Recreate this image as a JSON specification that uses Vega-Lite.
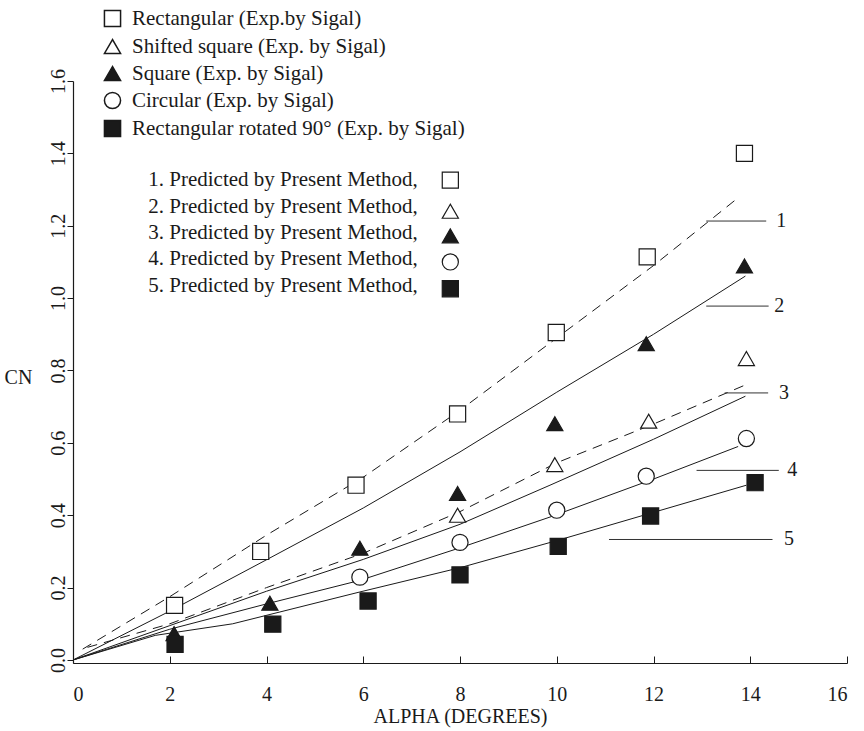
{
  "$schema": "https://vega.github.io/schema/vega-lite/v6.json",
  "width": 774,
  "height": 582,
  "autosize": {"type": "none"},
  "padding": {"left": 73, "top": 81, "right": 17, "bottom": 68},
  "background": "white",
  "config": {
    "font": "Liberation Serif",
    "view": {"stroke": null},
    "axis": {
      "grid": false,
      "domainColor": "#1a1a1a",
      "domainWidth": 1.2,
      "tickColor": "#1a1a1a",
      "tickWidth": 1,
      "labelColor": "#1a1a1a",
      "titleColor": "#1a1a1a",
      "labelFont": "Liberation Serif",
      "titleFont": "Liberation Serif",
      "labelFontSize": 20,
      "titleFontSize": 20,
      "titleFontWeight": "normal"
    },
    "legend": {
      "labelFont": "Liberation Serif",
      "labelFontSize": 21,
      "labelColor": "#1a1a1a",
      "labelLimit": 0
    }
  },
  "datasets": {
    "experimental": [
      {"series": "Rectangular (Exp.by Sigal)", "alpha": 2.1, "cn": 0.151},
      {"series": "Rectangular (Exp.by Sigal)", "alpha": 3.88, "cn": 0.30},
      {"series": "Rectangular (Exp.by Sigal)", "alpha": 5.85, "cn": 0.483},
      {"series": "Rectangular (Exp.by Sigal)", "alpha": 7.95, "cn": 0.68},
      {"series": "Rectangular (Exp.by Sigal)", "alpha": 9.99, "cn": 0.905},
      {"series": "Rectangular (Exp.by Sigal)", "alpha": 11.87, "cn": 1.114},
      {"series": "Rectangular (Exp.by Sigal)", "alpha": 13.88, "cn": 1.40},
      {"series": "Shifted square (Exp. by Sigal)", "alpha": 7.95, "cn": 0.40},
      {"series": "Shifted square (Exp. by Sigal)", "alpha": 9.96, "cn": 0.54},
      {"series": "Shifted square (Exp. by Sigal)", "alpha": 11.9, "cn": 0.66},
      {"series": "Shifted square (Exp. by Sigal)", "alpha": 13.92, "cn": 0.833},
      {"series": "Square (Exp. by Sigal)", "alpha": 2.09, "cn": 0.073},
      {"series": "Square (Exp. by Sigal)", "alpha": 4.07, "cn": 0.157},
      {"series": "Square (Exp. by Sigal)", "alpha": 5.93, "cn": 0.309},
      {"series": "Square (Exp. by Sigal)", "alpha": 7.95, "cn": 0.46},
      {"series": "Square (Exp. by Sigal)", "alpha": 9.96, "cn": 0.653},
      {"series": "Square (Exp. by Sigal)", "alpha": 11.85, "cn": 0.874},
      {"series": "Square (Exp. by Sigal)", "alpha": 13.88, "cn": 1.089},
      {"series": "Circular (Exp. by Sigal)", "alpha": 5.93, "cn": 0.229},
      {"series": "Circular (Exp. by Sigal)", "alpha": 8.0, "cn": 0.325},
      {"series": "Circular (Exp. by Sigal)", "alpha": 10.0, "cn": 0.414},
      {"series": "Circular (Exp. by Sigal)", "alpha": 11.85, "cn": 0.508},
      {"series": "Circular (Exp. by Sigal)", "alpha": 13.92, "cn": 0.612},
      {"series": "Rectangular rotated 90° (Exp. by Sigal)", "alpha": 2.11, "cn": 0.043},
      {"series": "Rectangular rotated 90° (Exp. by Sigal)", "alpha": 4.13, "cn": 0.099},
      {"series": "Rectangular rotated 90° (Exp. by Sigal)", "alpha": 6.1, "cn": 0.163},
      {"series": "Rectangular rotated 90° (Exp. by Sigal)", "alpha": 8.0, "cn": 0.235},
      {"series": "Rectangular rotated 90° (Exp. by Sigal)", "alpha": 10.03, "cn": 0.314},
      {"series": "Rectangular rotated 90° (Exp. by Sigal)", "alpha": 11.94, "cn": 0.398},
      {"series": "Rectangular rotated 90° (Exp. by Sigal)", "alpha": 14.1, "cn": 0.49}
    ],
    "predicted": [
      {"curve": "1", "alpha": 0.2, "cn": 0.03},
      {"curve": "1", "alpha": 2, "cn": 0.175},
      {"curve": "1", "alpha": 4, "cn": 0.345},
      {"curve": "1", "alpha": 6, "cn": 0.505},
      {"curve": "1", "alpha": 8, "cn": 0.69},
      {"curve": "1", "alpha": 10, "cn": 0.89},
      {"curve": "1", "alpha": 12, "cn": 1.09},
      {"curve": "1", "alpha": 13.7, "cn": 1.272},
      {"curve": "2", "alpha": 0, "cn": 0},
      {"curve": "2", "alpha": 2, "cn": 0.135},
      {"curve": "2", "alpha": 4, "cn": 0.277},
      {"curve": "2", "alpha": 6, "cn": 0.42},
      {"curve": "2", "alpha": 8, "cn": 0.575},
      {"curve": "2", "alpha": 10, "cn": 0.74},
      {"curve": "2", "alpha": 12, "cn": 0.9},
      {"curve": "2", "alpha": 13.9, "cn": 1.061},
      {"curve": "3", "alpha": 0.3, "cn": 0.035},
      {"curve": "3", "alpha": 2, "cn": 0.1},
      {"curve": "3", "alpha": 4, "cn": 0.2},
      {"curve": "3", "alpha": 6, "cn": 0.295},
      {"curve": "3", "alpha": 8, "cn": 0.41},
      {"curve": "3", "alpha": 10, "cn": 0.545},
      {"curve": "3", "alpha": 12, "cn": 0.652},
      {"curve": "3", "alpha": 13.88, "cn": 0.759},
      {"curve": "4", "alpha": 0, "cn": 0},
      {"curve": "4", "alpha": 2, "cn": 0.095},
      {"curve": "4", "alpha": 4, "cn": 0.19},
      {"curve": "4", "alpha": 6, "cn": 0.278},
      {"curve": "4", "alpha": 8, "cn": 0.375},
      {"curve": "4", "alpha": 9.86, "cn": 0.483},
      {"curve": "4", "alpha": 12, "cn": 0.61},
      {"curve": "4", "alpha": 13.9, "cn": 0.729},
      {"curve": "5", "alpha": 0, "cn": 0},
      {"curve": "5", "alpha": 2, "cn": 0.085},
      {"curve": "5", "alpha": 4, "cn": 0.155},
      {"curve": "5", "alpha": 5.93, "cn": 0.22},
      {"curve": "5", "alpha": 8, "cn": 0.31},
      {"curve": "5", "alpha": 9.86, "cn": 0.395},
      {"curve": "5", "alpha": 12, "cn": 0.5},
      {"curve": "5", "alpha": 13.75, "cn": 0.59},
      {"curve": "6", "alpha": 0, "cn": 0},
      {"curve": "6", "alpha": 1.7, "cn": 0.068},
      {"curve": "6", "alpha": 3.3, "cn": 0.1},
      {"curve": "6", "alpha": 5.93, "cn": 0.188},
      {"curve": "6", "alpha": 8, "cn": 0.255},
      {"curve": "6", "alpha": 10.03, "cn": 0.331},
      {"curve": "6", "alpha": 12, "cn": 0.408},
      {"curve": "6", "alpha": 13.92, "cn": 0.483}
    ],
    "leaders": [
      {"label": "1", "from": 13.09, "to": 14.33, "cn": 1.213, "at": 14.64},
      {"label": "2", "from": 13.09, "to": 14.38, "cn": 0.978, "at": 14.6},
      {"label": "3", "from": 13.47, "to": 14.37, "cn": 0.738, "at": 14.7},
      {"label": "4", "from": 12.89, "to": 14.59, "cn": 0.524, "at": 14.87},
      {"label": "5", "from": 11.08, "to": 14.46, "cn": 0.333, "at": 14.8}
    ],
    "key": [
      {"label": "1. Predicted by Present Method,", "series": "Rectangular (Exp.by Sigal)", "tx": 1.556, "ty": 1.326, "sx": 7.8, "sy": 1.326},
      {"label": "2. Predicted by Present Method,", "series": "Shifted square (Exp. by Sigal)", "tx": 1.556, "ty": 1.253, "sx": 7.8, "sy": 1.24},
      {"label": "3. Predicted by Present Method,", "series": "Square (Exp. by Sigal)", "tx": 1.556, "ty": 1.18, "sx": 7.8, "sy": 1.172},
      {"label": "4. Predicted by Present Method,", "series": "Circular (Exp. by Sigal)", "tx": 1.556, "ty": 1.107, "sx": 7.8, "sy": 1.1},
      {"label": "5. Predicted by Present Method,", "series": "Rectangular rotated 90° (Exp. by Sigal)", "tx": 1.556, "ty": 1.034, "sx": 7.8, "sy": 1.026}
    ]
  },
  "layer": [
    {
      "data": {"name": "predicted"},
      "transform": [{"filter": "datum.curve === '1' || datum.curve === '3'"}],
      "mark": {"type": "line", "color": "#1a1a1a", "strokeWidth": 1, "strokeDash": [10, 7]},
      "encoding": {
        "x": {
          "field": "alpha", "type": "quantitative", "title": "ALPHA (DEGREES)",
          "scale": {"domain": [0, 16], "nice": false, "zero": false},
          "axis": {
            "values": [0, 2, 4, 6, 8, 10, 12, 14, 16],
            "tickSize": -7,
            "labelPadding": 28,
            "titleY": 53,
            "titleBaseline": "middle"
          }
        },
        "y": {
          "field": "cn", "type": "quantitative", "title": "CN",
          "scale": {"domain": [-0.0083, 1.6], "nice": false, "zero": false},
          "axis": {
            "values": [0, 0.2, 0.4, 0.6, 0.8, 1.0, 1.2, 1.4, 1.6],
            "format": ".1f",
            "tickSize": 6,
            "labelAngle": 270,
            "labelAlign": "center",
            "labelBaseline": "alphabetic",
            "labelPadding": 3,
            "titleAngle": 0,
            "titleX": -55,
            "titleY": 296,
            "titleAlign": "center",
            "titleBaseline": "middle"
          }
        },
        "detail": {"field": "curve"}
      }
    },
    {
      "data": {"name": "predicted"},
      "transform": [{"filter": "datum.curve !== '1' && datum.curve !== '3'"}],
      "mark": {"type": "line", "color": "#1a1a1a", "strokeWidth": 1},
      "encoding": {
        "x": {"field": "alpha", "type": "quantitative", "title": "ALPHA (DEGREES)"},
        "y": {"field": "cn", "type": "quantitative", "title": "CN"},
        "detail": {"field": "curve"}
      }
    },
    {
      "data": {"name": "leaders"},
      "mark": {"type": "rule", "color": "#333333", "strokeWidth": 1},
      "encoding": {
        "x": {"field": "from", "type": "quantitative", "title": "ALPHA (DEGREES)"},
        "x2": {"field": "to"},
        "y": {"field": "cn", "type": "quantitative", "title": "CN"}
      }
    },
    {
      "data": {"name": "leaders"},
      "mark": {"type": "text", "font": "Liberation Serif", "fontSize": 20, "color": "#1a1a1a", "align": "center", "baseline": "middle"},
      "encoding": {
        "x": {"field": "at", "type": "quantitative", "title": "ALPHA (DEGREES)"},
        "y": {"field": "cn", "type": "quantitative", "title": "CN"},
        "text": {"field": "label"}
      }
    },
    {
      "data": {"name": "experimental"},
      "mark": {"type": "point", "filled": true, "opacity": 1, "stroke": "#1a1a1a", "strokeWidth": 1.2},
      "encoding": {
        "x": {"field": "alpha", "type": "quantitative", "title": "ALPHA (DEGREES)"},
        "y": {"field": "cn", "type": "quantitative", "title": "CN"},
        "shape": {
          "field": "series", "type": "nominal",
          "scale": {
            "domain": ["Rectangular (Exp.by Sigal)", "Shifted square (Exp. by Sigal)", "Square (Exp. by Sigal)", "Circular (Exp. by Sigal)", "Rectangular rotated 90° (Exp. by Sigal)"],
            "range": ["square", "triangle-up", "triangle-up", "circle", "square"]
          },
          "legend": {
            "title": null,
            "orient": "none",
            "legendX": 29,
            "legendY": -73,
            "rowPadding": 5,
            "labelOffset": 9,
            "padding": 0,
            "labelLimit": 0,
            "encode": {"symbols": {"update": {"stroke": {"value": "#1a1a1a"}, "strokeWidth": {"value": 1.2}}}}
          }
        },
        "fill": {
          "field": "series", "type": "nominal",
          "scale": {
            "domain": ["Rectangular (Exp.by Sigal)", "Shifted square (Exp. by Sigal)", "Square (Exp. by Sigal)", "Circular (Exp. by Sigal)", "Rectangular rotated 90° (Exp. by Sigal)"],
            "range": ["white", "white", "#1a1a1a", "white", "#1a1a1a"]
          },
          "legend": {
            "title": null,
            "orient": "none",
            "legendX": 29,
            "legendY": -73,
            "rowPadding": 5,
            "labelOffset": 9,
            "padding": 0,
            "labelLimit": 0,
            "encode": {"symbols": {"update": {"stroke": {"value": "#1a1a1a"}, "strokeWidth": {"value": 1.2}}}}
          }
        },
        "size": {
          "field": "series", "type": "nominal",
          "scale": {
            "domain": ["Rectangular (Exp.by Sigal)", "Shifted square (Exp. by Sigal)", "Square (Exp. by Sigal)", "Circular (Exp. by Sigal)", "Rectangular rotated 90° (Exp. by Sigal)"],
            "range": [260, 260, 260, 250, 320]
          },
          "legend": {
            "title": null,
            "orient": "none",
            "legendX": 29,
            "legendY": -73,
            "rowPadding": 5,
            "labelOffset": 9,
            "padding": 0,
            "labelLimit": 0,
            "encode": {"symbols": {"update": {"stroke": {"value": "#1a1a1a"}, "strokeWidth": {"value": 1.2}}}}
          }
        }
      }
    },
    {
      "data": {"name": "key"},
      "mark": {"type": "text", "font": "Liberation Serif", "fontSize": 21, "color": "#1a1a1a", "align": "left", "baseline": "middle", "clip": false},
      "encoding": {
        "x": {"field": "tx", "type": "quantitative", "title": "ALPHA (DEGREES)"},
        "y": {"field": "ty", "type": "quantitative", "title": "CN"},
        "text": {"field": "label"}
      }
    },
    {
      "data": {"name": "key"},
      "mark": {"type": "point", "filled": true, "opacity": 1, "stroke": "#1a1a1a", "strokeWidth": 1.2},
      "encoding": {
        "x": {"field": "sx", "type": "quantitative", "title": "ALPHA (DEGREES)"},
        "y": {"field": "sy", "type": "quantitative", "title": "CN"},
        "shape": {"field": "series", "type": "nominal", "legend": null},
        "fill": {"field": "series", "type": "nominal", "legend": null},
        "size": {"field": "series", "type": "nominal", "legend": null}
      }
    }
  ]
}
